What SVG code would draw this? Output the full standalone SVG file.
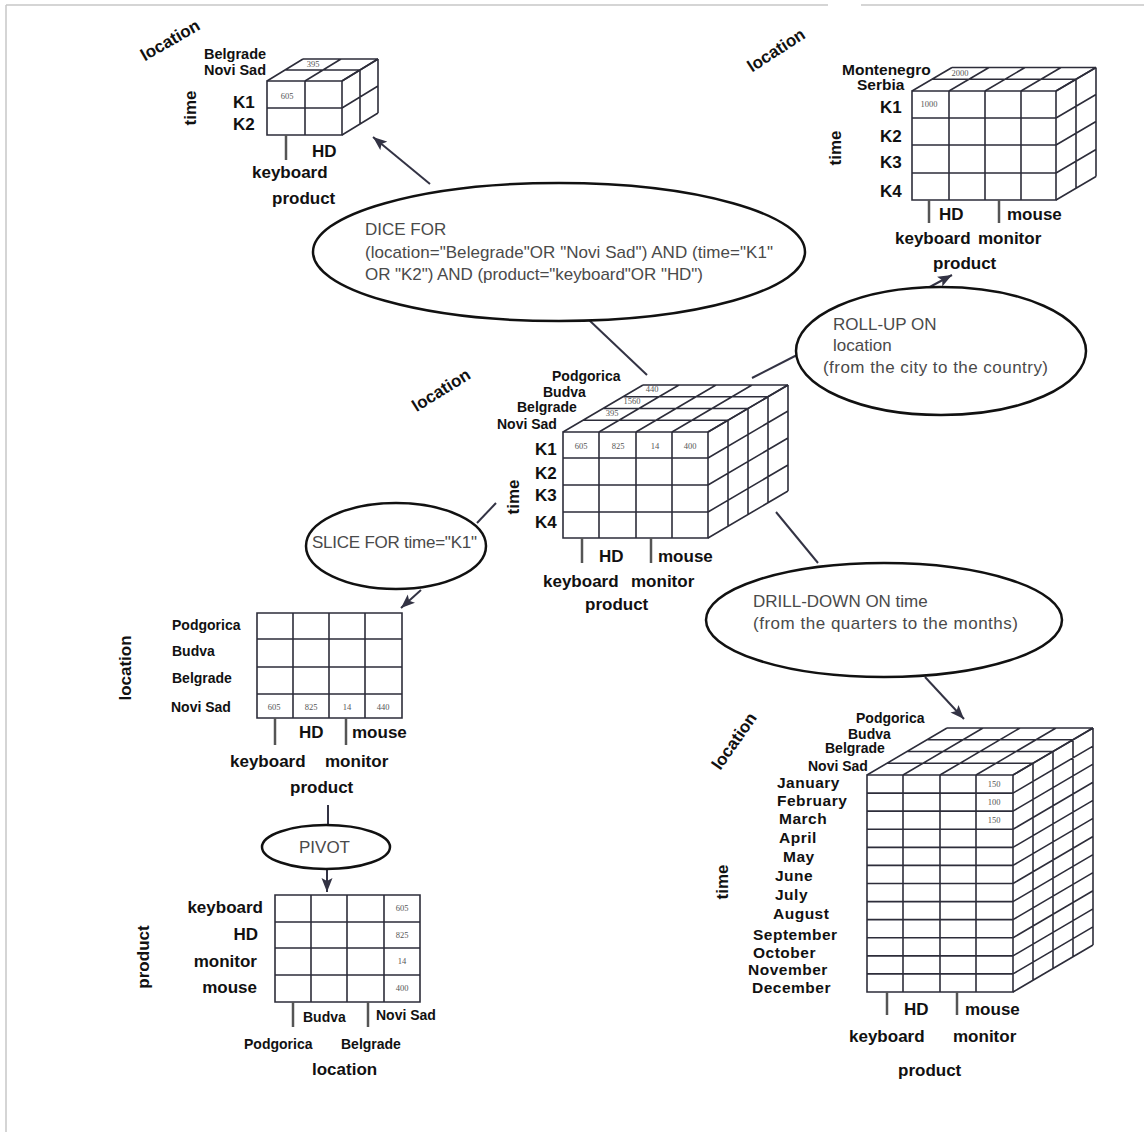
<svg xmlns="http://www.w3.org/2000/svg" width="1144" height="1132" viewBox="0 0 1144 1132">
<style>
.bg{fill:#fff}
.frame{stroke:#c8c8c8;stroke-width:1.5;fill:none}
.grid{fill:none;stroke:#2d2d3a;stroke-width:1.6;vector-effect:non-scaling-stroke}
.tick{stroke:#555;stroke-width:2.5}
.lbl{font-family:"Liberation Sans",Arial,sans-serif;font-weight:bold;font-size:17px;fill:#111}
.mon{font-family:"Liberation Sans",Arial,sans-serif;font-weight:bold;font-size:15.5px;letter-spacing:0.5px;fill:#111}
.city{font-family:"Liberation Sans",Arial,sans-serif;font-weight:bold;font-size:14px;fill:#111}
.num{font-family:"Liberation Serif","Times New Roman",serif;font-size:8.5px;fill:#555;text-anchor:middle}
.op{fill:#fff;stroke:#111;stroke-width:2.5}
.opt{font-family:"Liberation Sans",Arial,sans-serif;font-size:17px;fill:#4a4a4a}
.con{stroke:#333344;stroke-width:2;fill:none}
.arr{stroke:#333344;stroke-width:2;fill:none;marker-end:url(#ah)}
</style>
<defs>
<marker id="ah" markerUnits="userSpaceOnUse" markerWidth="16" markerHeight="12" refX="14" refY="6" orient="auto">
<path d="M0,0.5 L14,6 L0,11.5 L3,6 z" fill="#333344"/>
</marker>
</defs>
<rect class="bg" x="0" y="0" width="1144" height="1132"/>
<g id="frame">
<path class="frame" d="M6,5 H828 M861,5 H1144 M6,5 V1132"/>
</g>

<g id="connectors">
<line class="arr" x1="430" y1="184" x2="373" y2="137"/>
<line class="con" x1="589" y1="320" x2="647" y2="375"/>
<line class="con" x1="752" y1="378" x2="797" y2="355"/>
<line class="arr" x1="926" y1="289" x2="952" y2="275"/>
<line class="con" x1="496" y1="503" x2="477" y2="523"/>
<line class="arr" x1="421" y1="590" x2="401" y2="608"/>
<line class="con" x1="328" y1="805" x2="328" y2="825"/>
<line class="arr" x1="327" y1="869" x2="327" y2="892"/>
<line class="con" x1="776" y1="512" x2="818" y2="563"/>
<line class="arr" x1="925" y1="677" x2="964" y2="719"/>
</g>

<g id="dice-cube">
<path class="grid" transform="translate(267,81)" d="M0,0H75V54H0Z M38,0V54 M0,27H75"/>
<path class="grid" transform="matrix(1,0,18,-11,267,81)" d="M0,0V2 M38,0V2 M75,0V2 M0,1H75 M0,2H75"/>
<path class="grid" transform="matrix(18,-11,0,1,342,81)" d="M1,0V54 M2,0V54 M0,0H2 M0,27H2 M0,54H2"/>
<text class="num" x="287" y="99">605</text>
<text class="num" x="313" y="67">395</text>
<text class="lbl" transform="translate(170,40) rotate(-30)" text-anchor="middle" dy="0.35em">location</text>
<text class="city" x="204" y="59" style="font-size:14.5px">Belgrade</text>
<text class="city" x="204" y="75" style="font-size:14.5px">Novi Sad</text>
<text class="lbl" x="233" y="108">K1</text>
<text class="lbl" x="233" y="130">K2</text>
<text class="lbl" transform="translate(190,108) rotate(-90)" text-anchor="middle" dy="0.35em">time</text>
<line class="tick" x1="286" y1="135" x2="286" y2="160"/>
<text class="lbl" x="312" y="157">HD</text>
<text class="lbl" x="252" y="178">keyboard</text>
<text class="lbl" x="272" y="204">product</text>
</g>

<g id="dice-op">
<ellipse class="op" cx="559" cy="252" rx="246" ry="69"/>
<text class="opt" x="365" y="235">DICE FOR</text>
<text class="opt" x="365" y="258" textLength="408">(location="Belegrade"OR "Novi Sad") AND (time="K1"</text>
<text class="opt" x="365" y="280" textLength="338">OR "K2") AND (product="keyboard"OR "HD")</text>
</g>

<g id="rollup-cube">
<path class="grid" transform="translate(912,91)" d="M0,0H144V109H0Z M37,0V109 M73,0V109 M109,0V109 M0,27H144 M0,54H144 M0,82H144"/>
<path class="grid" transform="matrix(1,0,20,-11.75,912,91)" d="M0,0V2 M37,0V2 M73,0V2 M109,0V2 M144,0V2 M0,1H144 M0,2H144"/>
<path class="grid" transform="matrix(20,-11.75,0,1,1056,91)" d="M1,0V109 M2,0V109 M0,0H2 M0,27H2 M0,54H2 M0,82H2 M0,109H2"/>
<text class="num" x="929" y="107">1000</text>
<text class="num" x="960" y="76">2000</text>
<text class="lbl" transform="translate(776,50) rotate(-33)" text-anchor="middle" dy="0.35em">location</text>
<text class="city" x="842" y="75" style="font-size:15.5px">Montenegro</text>
<text class="city" x="857" y="90" style="font-size:15.5px">Serbia</text>
<text class="lbl" x="880" y="113">K1</text>
<text class="lbl" x="880" y="142">K2</text>
<text class="lbl" x="880" y="168">K3</text>
<text class="lbl" x="880" y="197">K4</text>
<text class="lbl" transform="translate(835,148) rotate(-90)" text-anchor="middle" dy="0.35em">time</text>
<line class="tick" x1="929" y1="200" x2="929" y2="223"/>
<line class="tick" x1="999" y1="200" x2="999" y2="223"/>
<text class="lbl" x="939" y="220">HD</text>
<text class="lbl" x="1007" y="220">mouse</text>
<text class="lbl" x="895" y="244">keyboard</text>
<text class="lbl" x="978" y="244">monitor</text>
<text class="lbl" x="933" y="269">product</text>
</g>

<g id="rollup-op">
<ellipse class="op" cx="941" cy="351" rx="145" ry="64"/>
<text class="opt" x="833" y="330">ROLL-UP ON</text>
<text class="opt" x="833" y="351">location</text>
<text class="opt" x="823" y="373" textLength="225">(from the city to the country)</text>
</g>

<g id="main-cube">
<path class="grid" transform="translate(563,432)" d="M0,0H145V106H0Z M36,0V106 M73,0V106 M109,0V106 M0,26H145 M0,53H145 M0,80H145"/>
<path class="grid" transform="matrix(1,0,20,-11.75,563,432)" d="M0,0V4 M36,0V4 M73,0V4 M109,0V4 M145,0V4 M0,1H145 M0,2H145 M0,3H145 M0,4H145"/>
<path class="grid" transform="matrix(20,-11.75,0,1,708,432)" d="M1,0V106 M2,0V106 M3,0V106 M4,0V106 M0,0H4 M0,26H4 M0,53H4 M0,80H4 M0,106H4"/>
<text class="num" x="581" y="449">605</text>
<text class="num" x="618" y="449">825</text>
<text class="num" x="655" y="449">14</text>
<text class="num" x="690" y="449">400</text>
<text class="num" x="612" y="416">395</text>
<text class="num" x="632" y="404">1560</text>
<text class="num" x="652" y="392">440</text>
<text class="lbl" transform="translate(441,390) rotate(-32)" text-anchor="middle" dy="0.35em">location</text>
<text class="city" x="552" y="381">Podgorica</text>
<text class="city" x="543" y="397">Budva</text>
<text class="city" x="517" y="412">Belgrade</text>
<text class="city" x="497" y="429">Novi Sad</text>
<text class="lbl" x="535" y="455">K1</text>
<text class="lbl" x="535" y="479">K2</text>
<text class="lbl" x="535" y="501">K3</text>
<text class="lbl" x="535" y="528">K4</text>
<text class="lbl" transform="translate(513,497) rotate(-90)" text-anchor="middle" dy="0.35em">time</text>
<line class="tick" x1="582" y1="538" x2="582" y2="563"/>
<line class="tick" x1="651" y1="538" x2="651" y2="563"/>
<text class="lbl" x="599" y="562">HD</text>
<text class="lbl" x="658" y="562">mouse</text>
<text class="lbl" x="543" y="587">keyboard</text>
<text class="lbl" x="631" y="587">monitor</text>
<text class="lbl" x="585" y="610">product</text>
</g>

<g id="slice-op">
<ellipse class="op" cx="396" cy="546" rx="90" ry="43"/>
<text class="opt" x="312" y="548" textLength="165">SLICE FOR time="K1"</text>
</g>

<g id="slice-table">
<path class="grid" transform="translate(257,613)" d="M0,0H145V105H0Z M36,0V105 M72,0V105 M108,0V105 M0,26H145 M0,54H145 M0,81H145"/>
<text class="num" x="274" y="710">605</text>
<text class="num" x="311" y="710">825</text>
<text class="num" x="347" y="710">14</text>
<text class="num" x="383" y="710">440</text>
<text class="lbl" transform="translate(125,668) rotate(-90)" text-anchor="middle" dy="0.35em">location</text>
<text class="city" x="172" y="630">Podgorica</text>
<text class="city" x="172" y="656">Budva</text>
<text class="city" x="172" y="683">Belgrade</text>
<text class="city" x="171" y="712">Novi Sad</text>
<line class="tick" x1="275" y1="718" x2="275" y2="745"/>
<line class="tick" x1="346" y1="718" x2="346" y2="745"/>
<text class="lbl" x="299" y="738">HD</text>
<text class="lbl" x="352" y="738">mouse</text>
<text class="lbl" x="230" y="767">keyboard</text>
<text class="lbl" x="325" y="767">monitor</text>
<text class="lbl" x="290" y="793">product</text>
</g>

<g id="pivot-op">
<ellipse class="op" cx="326" cy="847" rx="64" ry="22"/>
<text class="opt" x="299" y="853">PIVOT</text>
</g>

<g id="pivot-table">
<path class="grid" transform="translate(275,895)" d="M0,0H145V107H0Z M36,0V107 M72,0V107 M109,0V107 M0,27H145 M0,53H145 M0,80H145"/>
<text class="num" x="402" y="911">605</text>
<text class="num" x="402" y="938">825</text>
<text class="num" x="402" y="964">14</text>
<text class="num" x="402" y="991">400</text>
<text class="lbl" transform="translate(143,957) rotate(-90)" text-anchor="middle" dy="0.35em">product</text>
<text class="lbl" x="263" y="913" text-anchor="end">keyboard</text>
<text class="lbl" x="258" y="940" text-anchor="end">HD</text>
<text class="lbl" x="257" y="967" text-anchor="end">monitor</text>
<text class="lbl" x="257" y="993" text-anchor="end">mouse</text>
<line class="tick" x1="293" y1="1002" x2="293" y2="1027"/>
<line class="tick" x1="368" y1="1002" x2="368" y2="1027"/>
<text class="city" x="303" y="1022">Budva</text>
<text class="city" x="376" y="1020">Novi Sad</text>
<text class="city" x="244" y="1049">Podgorica</text>
<text class="city" x="341" y="1049">Belgrade</text>
<text class="lbl" x="312" y="1075">location</text>
</g>

<g id="drill-op">
<ellipse class="op" cx="884" cy="620" rx="178" ry="57"/>
<text class="opt" x="753" y="607">DRILL-DOWN ON time</text>
<text class="opt" x="753" y="629" textLength="265">(from the quarters to the months)</text>
</g>

<g id="drill-cube">
<path class="grid" transform="translate(867,775)" d="M0,0H146V217H0Z M36,0V217 M73,0V217 M109,0V217 M0,18.08H146 M0,36.17H146 M0,54.25H146 M0,72.33H146 M0,90.42H146 M0,108.5H146 M0,126.58H146 M0,144.67H146 M0,162.75H146 M0,180.83H146 M0,198.92H146"/>
<path class="grid" transform="matrix(1,0,20,-11.75,867,775)" d="M0,0V4 M36,0V4 M73,0V4 M109,0V4 M146,0V4 M0,1H146 M0,2H146 M0,3H146 M0,4H146"/>
<path class="grid" transform="matrix(20,-11.75,0,1,1013,775)" d="M1,0V217 M2,0V217 M3,0V217 M4,0V217 M0,0H4 M0,18.08H4 M0,36.17H4 M0,54.25H4 M0,72.33H4 M0,90.42H4 M0,108.5H4 M0,126.58H4 M0,144.67H4 M0,162.75H4 M0,180.83H4 M0,198.92H4 M0,217H4"/>
<text class="num" x="994" y="787">150</text>
<text class="num" x="994" y="805">100</text>
<text class="num" x="994" y="823">150</text>
<text class="lbl" transform="translate(734,741) rotate(-55)" text-anchor="middle" dy="0.35em">location</text>
<text class="city" x="856" y="723">Podgorica</text>
<text class="city" x="848" y="739">Budva</text>
<text class="city" x="825" y="753">Belgrade</text>
<text class="city" x="808" y="771">Novi Sad</text>
<text class="mon" x="777" y="788">January</text>
<text class="mon" x="777" y="806">February</text>
<text class="mon" x="779" y="824">March</text>
<text class="mon" x="779" y="843">April</text>
<text class="mon" x="783" y="862">May</text>
<text class="mon" x="775" y="881">June</text>
<text class="mon" x="775" y="900">July</text>
<text class="mon" x="773" y="919">August</text>
<text class="mon" x="753" y="940">September</text>
<text class="mon" x="753" y="958">October</text>
<text class="mon" x="748" y="975">November</text>
<text class="mon" x="752" y="993">December</text>
<text class="lbl" transform="translate(722,882) rotate(-90)" text-anchor="middle" dy="0.35em">time</text>
<line class="tick" x1="887" y1="992" x2="887" y2="1015"/>
<line class="tick" x1="957" y1="992" x2="957" y2="1015"/>
<text class="lbl" x="904" y="1015">HD</text>
<text class="lbl" x="965" y="1015">mouse</text>
<text class="lbl" x="849" y="1042">keyboard</text>
<text class="lbl" x="953" y="1042">monitor</text>
<text class="lbl" x="898" y="1076">product</text>
</g>
</svg>
